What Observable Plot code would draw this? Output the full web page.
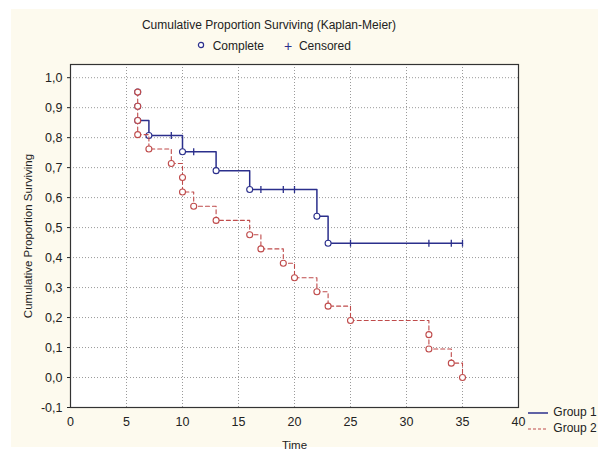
<!DOCTYPE html>
<html>
<head>
<meta charset="utf-8">
<script src="https://cdn.jsdelivr.net/npm/d3@7"></script>
<script src="https://cdn.jsdelivr.net/npm/@observablehq/plot@0.6"></script>
<style>
  html, body { margin: 0; padding: 0; background: #ffffff; }
  #wrap { position: relative; width: 598px; height: 452px; overflow: hidden; font-family: Arial, "Liberation Sans", sans-serif; color: #222; }
  #cream { position: absolute; left: 11px; top: 9px; width: 587px; height: 438px; background: #fdfaee; }
  #title { position: absolute; left: 0; width: 538px; top: 18px; text-align: center; font-size: 12px; line-height: 14px; }
  #legend { position: absolute; left: 196px; top: 38px; font-size: 12px; line-height: 14px; white-space: nowrap; }
  #legend span { display: inline-block; vertical-align: middle; }
  #chart { position: absolute; left: 0; top: 50px; }
  #glegend { position: absolute; left: 526px; top: 404px; font-size: 12px; line-height: 16px; white-space: nowrap; }
  #glegend div { height: 16px; }
  #glegend svg { vertical-align: middle; }
</style>
</head>
<body>
<div id="wrap">
  <div id="cream"></div>
  <div id="title">Cumulative Proportion Surviving (Kaplan-Meier)</div>
  <div id="legend">
    <span><svg width="10" height="10"><circle cx="5" cy="5" r="2.6" fill="white" stroke="#2b2f8c" stroke-width="1.2"/></svg></span>
    <span>&nbsp;Complete&nbsp;&nbsp;&nbsp;&nbsp;&nbsp;</span>
    <span style="color:#2b2f8c;font-size:14px">+</span>
    <span>&nbsp;Censored</span>
  </div>
  <div id="chart"></div>
  <div id="glegend">
    <div><svg width="24" height="8"><line x1="2" x2="22" y1="4" y2="4" stroke="#2b2f8c" stroke-width="1.5"/></svg> Group 1</div>
    <div><svg width="24" height="8"><line x1="2" x2="22" y1="4" y2="4" stroke="#bf4b4b" stroke-width="1" stroke-dasharray="3,2"/></svg> Group 2</div>
  </div>
</div>
<script>
// ---- data ----
const group1Times = [6, 6, 6, 7, 10, 13, 16, 22, 23];
const group1Surv  = [0.952, 0.905, 0.857, 0.807, 0.753, 0.690, 0.627, 0.538, 0.448];
const group1CensTimes = [9, 11, 17, 19, 20, 25, 32, 34, 35];
const group1CensSurv  = [0.807, 0.753, 0.627, 0.627, 0.627, 0.448, 0.448, 0.448, 0.448];

const group2Times = [6, 6, 6, 6, 7, 9, 10, 10, 11, 13, 16, 17, 19, 20, 22, 23, 25, 32, 32, 34, 35];
const group2Surv  = [0.952, 0.905, 0.857, 0.810, 0.762, 0.714, 0.667, 0.619, 0.571, 0.524, 0.476, 0.429,
                     0.381, 0.333, 0.286, 0.238, 0.190, 0.143, 0.095, 0.048, 0.000];

const xTicks = [0, 5, 10, 15, 20, 25, 30, 35, 40];
const yTicks = [-0.1, 0.0, 0.1, 0.2, 0.3, 0.4, 0.5, 0.6, 0.7, 0.8, 0.9, 1.0];
const yTickLabels = ["-0,1", "0,0", "0,1", "0,2", "0,3", "0,4", "0,5", "0,6", "0,7", "0,8", "0,9", "1,0"];

const blue = "#2b2f8c";
const red = "#bf4b4b";

const g1Events = group1Times.map((t, i) => ({t, s: group1Surv[i]}));
const g1Cens = group1CensTimes.map((t, i) => ({t, s: group1CensSurv[i]}));
const g2Events = group2Times.map((t, i) => ({t, s: group2Surv[i]}));

// Group 1 line: starts at the level after the tied first deaths
const firstT1 = d3.min(g1Events, d => d.t);
const minFirst1 = d3.min(g1Events.filter(d => d.t === firstT1), d => d.s);
const g1Line = [...g1Events, ...g1Cens]
  .filter(d => !(d.t === firstT1 && d.s > minFirst1))
  .sort((a, b) => a.t - b.t || b.s - a.s);
const g2Line = g2Events.slice().sort((a, b) => a.t - b.t || b.s - a.s);

const censorSymbol = {
  draw(context, size) {
    const h = Math.sqrt(size / Math.PI);
    context.moveTo(0, -h);
    context.lineTo(0, h);
  }
};

const tickStyle = { fontSize: "12.5px" };

const chart = Plot.plot({
  width: 598,
  height: 402,
  marginTop: 14,
  marginBottom: 45,
  marginLeft: 70,
  marginRight: 80,
  style: { fontFamily: "Arial, 'Liberation Sans', sans-serif", fontSize: "11.5px", color: "#222", background: "transparent" },
  x: { domain: [0, 40] },
  y: { domain: [-0.1, 1.044] },
  marks: [
    Plot.frame({ fill: "white", stroke: "none" }),
    Plot.gridX(xTicks, { stroke: "#9a9a9a", strokeOpacity: 1, strokeDasharray: "1,2" }),
    Plot.gridY(yTicks.filter(v => v > -0.1), { stroke: "#9a9a9a", strokeOpacity: 1, strokeDasharray: "1,2" }),
    Plot.axisX({ ticks: xTicks, tickSize: 0, tickPadding: 10, fontSize: 12.5, label: null }),
    Plot.axisX({ ticks: [], label: "Time", labelAnchor: "center", labelArrow: "none", labelOffset: 41 }),
    Plot.axisY({ ticks: yTicks, tickFormat: (d) => yTickLabels[yTicks.findIndex(v => Math.abs(v - d) < 1e-9)], tickSize: 3, tickPadding: 5,
                 fontSize: 12.5, label: null }),
    Plot.axisY({ ticks: [], label: "Cumulative Proportion Surviving", labelAnchor: "center", labelArrow: "none", labelOffset: 47 }),
    Plot.line(g1Line, { x: "t", y: "s", curve: "step-after", stroke: blue, strokeWidth: 1.5 }),
    Plot.dot(g1Cens, { x: "t", y: "s", symbol: censorSymbol, r: 3.5, stroke: blue, strokeWidth: 1.3 }),
    Plot.dot(g1Events, { x: "t", y: "s", r: 3, fill: "white", stroke: blue, strokeWidth: 1.1 }),
    Plot.line(g2Line, { x: "t", y: "s", curve: "step-after", stroke: red, strokeWidth: 1.1, strokeDasharray: "4,3" }),
    Plot.dot(g2Events, { x: "t", y: "s", r: 3, fill: "white", stroke: red, strokeWidth: 1.1 }),
    Plot.frame({ stroke: "#333", strokeWidth: 1.2 })
  ]
});
document.getElementById("chart").appendChild(chart);
</script>
</body>
</html>
